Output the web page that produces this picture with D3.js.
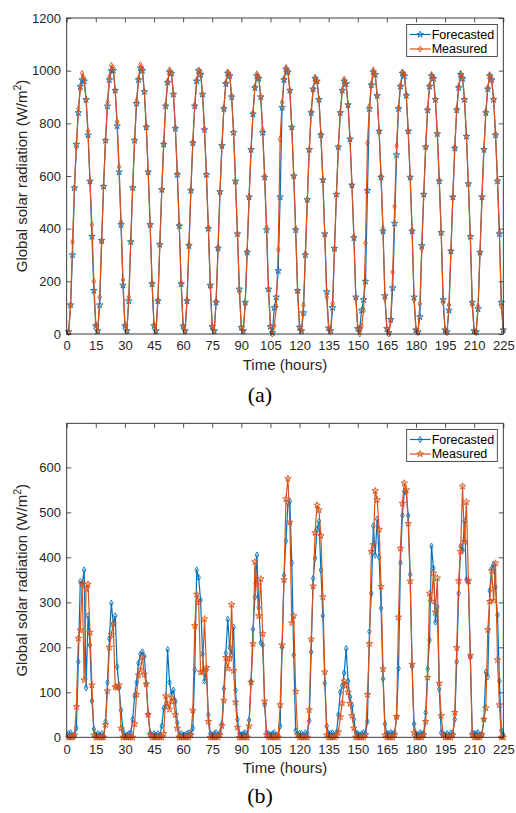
<!DOCTYPE html>
<html>
<head>
<meta charset="utf-8">
<script src="https://cdn.jsdelivr.net/npm/d3@7"></script>
<style>
  body { margin: 0; background: #fff; }
  svg { display: block; font-family: "Liberation Sans", Arial, sans-serif; }
</style>
</head>
<body>
<svg id="fig" width="516" height="813"></svg>
<script>
// ----------- Data: one row per 15-hour cycle, hours 1..225 ------------
const xTicks = [0, 15, 30, 45, 60, 75, 90, 105, 120, 135, 150, 165, 180, 195, 210, 225];
const topYTicks = [0, 200, 400, 600, 800, 1000, 1200];
const botYTicks = [0, 100, 200, 300, 400, 500, 600];

// (a) clear-sky days
const topForecast = [
  [8,110,300,555,720,840,940,965,960,890,755,580,370,165,30],
  [12,110,355,560,735,865,965,1000,1000,925,790,615,415,185,30],
  [12,125,350,555,735,875,965,1010,1000,920,785,615,415,190,30],
  [12,125,340,548,720,865,955,995,990,910,780,605,410,190,30],
  [12,125,335,545,725,865,960,1000,985,910,775,605,400,185,28],
  [12,120,325,540,715,855,950,990,980,900,765,580,380,170,25],
  [12,120,310,520,700,835,935,980,970,900,765,595,395,170,28],
  [5,100,140,240,520,860,965,1005,995,925,785,600,395,165,25],
  [12,80,300,510,700,840,930,970,960,890,755,585,380,160,22],
  [12,100,325,530,710,840,925,960,950,870,740,565,365,140,20],
  [20,90,130,200,545,855,945,995,985,905,770,595,390,145,20],
  [5,55,175,420,680,855,940,990,980,905,770,595,390,140,15],
  [8,65,335,530,710,850,940,980,970,890,760,580,385,130,15],
  [8,90,315,520,705,850,935,985,970,890,750,570,370,120,12],
  [8,95,310,520,700,840,930,980,965,890,755,580,380,120,15]
].flat();

const topMeasured = [
  [5,110,350,555,710,855,930,990,970,890,770,580,415,200,35],
  [10,140,350,560,735,880,975,1020,1010,925,805,635,425,205,35],
  [10,140,350,555,735,885,970,1022,1005,920,790,615,415,195,35],
  [10,130,340,548,725,870,960,1003,990,910,785,610,415,195,30],
  [10,130,340,548,730,870,965,1002,995,910,780,605,405,180,30],
  [10,125,330,540,715,860,955,995,985,905,765,575,380,160,25],
  [10,115,315,520,700,840,940,988,975,900,775,600,405,170,30],
  [0,30,105,320,740,880,970,1012,1000,925,785,600,400,160,25],
  [10,110,305,510,700,845,930,975,960,890,760,585,375,140,20],
  [10,115,320,530,710,840,925,968,950,870,740,565,370,135,20],
  [0,30,90,345,725,865,950,1003,985,905,770,600,400,135,20],
  [0,50,235,485,715,860,945,995,985,910,770,595,395,130,15],
  [5,115,325,530,710,855,945,985,975,890,760,585,385,120,15],
  [5,110,315,520,710,855,940,990,975,890,750,570,370,110,10],
  [5,105,310,520,700,845,935,985,970,890,760,585,385,105,15]
].flat();

// (b) cloudy days
const botForecast = [
  [8,10,5,3,21,168,346,340,372,110,270,205,81,18,5],
  [8,5,8,3,35,122,220,298,253,270,157,110,60,15,3],
  [5,8,10,40,92,122,165,185,190,180,120,52,10,5,8],
  [5,8,5,25,65,70,195,122,95,105,80,32,5,8,5],
  [5,8,10,8,20,150,372,355,305,185,125,150,50,8,5],
  [8,10,5,10,30,108,187,262,200,185,245,105,40,8,5],
  [8,10,5,38,125,240,312,405,288,210,205,72,10,8,5],
  [8,10,5,5,25,200,360,437,520,525,388,183,15,8,8],
  [8,5,10,8,37,190,353,398,462,480,372,270,120,25,8],
  [8,10,5,10,50,100,115,143,197,125,90,70,40,10,8],
  [5,8,10,8,35,235,320,470,405,485,400,287,130,30,8],
  [8,10,8,10,45,153,388,493,547,545,493,362,158,30,8],
  [5,10,8,8,55,152,216,425,376,256,290,107,10,8,5],
  [8,5,10,8,40,168,320,425,415,480,350,345,178,10,8],
  [8,10,5,8,40,145,135,326,376,385,334,272,125,15,5]
].flat();

const botMeasured = [
  [0,0,0,5,68,220,238,343,127,330,340,233,116,5,0],
  [0,0,0,0,28,103,200,228,252,112,110,116,20,0,0],
  [0,0,0,0,30,95,138,150,178,140,118,50,5,0,0],
  [0,0,0,0,8,92,75,62,88,80,50,20,0,0,0],
  [0,0,0,5,60,248,318,300,145,145,263,155,35,0,0],
  [0,0,0,5,25,82,177,153,175,295,148,78,22,0,0],
  [0,0,0,25,122,208,390,339,270,352,230,80,5,0,0],
  [0,0,0,0,72,205,350,530,575,478,254,270,102,5,0],
  [0,0,0,0,61,218,336,455,516,505,448,312,145,5,0],
  [0,0,0,3,12,45,76,125,115,100,75,48,20,0,0],
  [0,0,0,5,95,208,413,428,548,528,462,335,152,5,0],
  [0,0,0,5,46,267,420,520,565,550,475,347,162,10,0],
  [0,0,0,5,35,133,320,302,365,278,354,120,48,5,0],
  [0,0,0,5,55,199,348,413,558,435,523,348,182,5,0],
  [0,0,0,5,40,65,239,302,370,304,387,172,72,0,0]
].flat();

// ----------- Styling ------------
const BLUE = "#0072BD", ORANGE = "#D95319", AXIS = "#262626";
const svg = d3.select("#fig");
const x = d3.scaleLinear().domain([0, 225]).range([66.7, 503.3]);

const star = d3.symbol().type(d3.symbolStar).size(13);
const diamond = d3.symbol().type(d3.symbolDiamond).size(11);

function drawPanel(cfg) {
  const y = d3.scaleLinear().domain(cfg.yDomain).range([cfg.bottom, cfg.top]);
  const g = svg.append("g");

  // series
  cfg.series.forEach(s => {
    const pts = s.values.map((v, i) => [i + 1, v]);
    const line = d3.line().x(d => x(d[0])).y(d => y(d[1]));
    g.append("path")
      .attr("d", line(pts))
      .attr("fill", "none")
      .attr("stroke", s.color)
      .attr("stroke-width", 1.2)
      .attr("stroke-linejoin", "round");
    g.selectAll(null)
      .data(pts)
      .enter()
      .append("path")
      .attr("d", s.marker)
      .attr("transform", d => `translate(${x(d[0])},${y(d[1])})`)
      .attr("fill", "none")
      .attr("stroke", s.color)
      .attr("stroke-width", 0.9);
  });

  // axes, ticks pointing inward
  const fmt = d3.format("d");
  const bottomAx = g.append("g").attr("transform", `translate(0,${cfg.bottom})`)
    .call(d3.axisBottom(x).tickValues(xTicks).tickFormat(fmt).tickSizeInner(-4.5).tickSizeOuter(0).tickPadding(7));
  const topAx = g.append("g").attr("transform", `translate(0,${cfg.top})`)
    .call(d3.axisTop(x).tickValues(xTicks).tickFormat("").tickSizeInner(-4.5).tickSizeOuter(0));
  const leftAx = g.append("g").attr("transform", `translate(${x.range()[0]},0)`)
    .call(d3.axisLeft(y).tickValues(cfg.yTicks).tickFormat(fmt).tickSizeInner(-4.5).tickSizeOuter(0).tickPadding(5.8));
  const rightAx = g.append("g").attr("transform", `translate(${x.range()[1]},0)`)
    .call(d3.axisRight(y).tickValues(cfg.yTicks).tickFormat("").tickSizeInner(-4.5).tickSizeOuter(0));

  [bottomAx, topAx, leftAx, rightAx].forEach(a => {
    a.select(".domain").remove();
    a.selectAll("line").attr("stroke", AXIS).attr("stroke-width", 0.8);
    a.selectAll("text").attr("fill", AXIS).style("font-size", "13px")
      .style("font-family", '"Liberation Sans", Arial, sans-serif');
  });

  // box
  g.append("rect")
    .attr("x", x.range()[0]).attr("y", cfg.top)
    .attr("width", x.range()[1] - x.range()[0]).attr("height", cfg.bottom - cfg.top)
    .attr("fill", "none").attr("stroke", AXIS).attr("stroke-width", 0.9);

  // axis labels
  g.append("text")
    .attr("x", (x.range()[0] + x.range()[1]) / 2).attr("y", cfg.bottom + 35.8)
    .attr("text-anchor", "middle").attr("fill", AXIS).style("font-size", "15px")
    .text("Time (hours)");

  const yl = g.append("text")
    .attr("transform", `translate(27,${(cfg.top + cfg.bottom) / 2}) rotate(-90)`)
    .attr("text-anchor", "middle").attr("fill", AXIS).style("font-size", "15px");
  yl.append("tspan").text("Global solar radiation (W/m");
  yl.append("tspan").attr("dy", -6).style("font-size", "10.5px").text("2");
  yl.append("tspan").attr("dy", 6).text(")");

  // legend
  const lg = g.append("g").attr("transform", `translate(406.7,${cfg.legendTop})`);
  lg.append("rect").attr("width", 90.6).attr("height", 32)
    .attr("fill", "#fff").attr("stroke", AXIS).attr("stroke-width", 0.8);
  cfg.series.forEach((s, i) => {
    const cy = 10 + i * 14.5;
    lg.append("line").attr("x1", 3).attr("x2", 24).attr("y1", cy).attr("y2", cy)
      .attr("stroke", s.color).attr("stroke-width", 1.2);
    lg.append("path").attr("d", s.marker).attr("transform", `translate(13.5,${cy})`)
      .attr("fill", "none").attr("stroke", s.color).attr("stroke-width", 0.9);
    lg.append("text").attr("x", 25).attr("y", cy + 4.4)
      .attr("fill", "#000").style("font-size", "12.5px").text(s.name);
  });

  // caption
  svg.append("text")
    .attr("x", 260).attr("y", cfg.captionY)
    .attr("text-anchor", "middle")
    .style("font-family", '"Liberation Serif", "Times New Roman", serif')
    .style("font-size", "22px").attr("fill", "#000")
    .text(cfg.caption);
}

drawPanel({
  top: 18, bottom: 334, yDomain: [0, 1200], yTicks: topYTicks,
  legendTop: 24.5, caption: "(a)", captionY: 402,
  series: [
    { name: "Forecasted", values: topForecast, color: BLUE, marker: star() },
    { name: "Measured", values: topMeasured, color: ORANGE, marker: diamond() }
  ]
});

drawPanel({
  top: 423.3, bottom: 737.3, yDomain: [0, 698], yTicks: botYTicks,
  legendTop: 429.5, caption: "(b)", captionY: 803,
  series: [
    { name: "Forecasted", values: botForecast, color: BLUE, marker: diamond() },
    { name: "Measured", values: botMeasured, color: ORANGE, marker: star() }
  ]
});
</script>
</body>
</html>
